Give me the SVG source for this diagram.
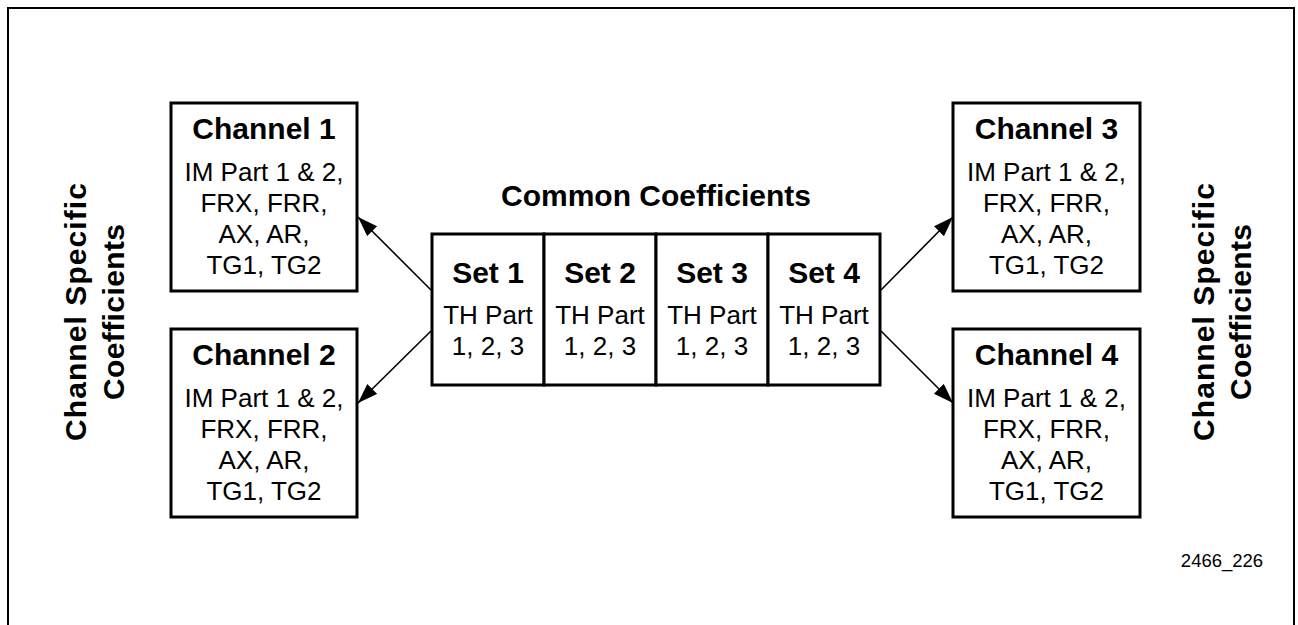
<svg xmlns="http://www.w3.org/2000/svg" width="1298" height="625" viewBox="0 0 1298 625">
<style>
.box{fill:#fff;stroke:#000;stroke-width:3}
.frame{fill:#fff;stroke:#000;stroke-width:2}
.h{font-family:"Liberation Sans",Arial,sans-serif;font-weight:bold;font-size:30px;text-anchor:middle;fill:#000}
.b{font-family:"Liberation Sans",Arial,sans-serif;font-size:26px;text-anchor:middle;fill:#000}
.id{font-family:"Liberation Sans",Arial,sans-serif;font-size:18.5px;text-anchor:middle;fill:#000}
.conn{stroke:#000;stroke-width:1.6;fill:none;marker-end:url(#arr)}
</style>
<defs>
<marker id="arr" markerUnits="userSpaceOnUse" markerWidth="21" markerHeight="15" refX="20" refY="7" orient="auto" viewBox="0 0 21 15">
<path d="M0,0 L20,7 L0,14 z" fill="#000"/>
</marker>
</defs>
<rect class="frame" x="8" y="8" width="1286" height="640"/>
<g id="label-left">
<text class="h" transform="translate(86,312) rotate(-90)" textLength="258" lengthAdjust="spacing">Channel Specific</text>
<text class="h" transform="translate(124,312) rotate(-90)" textLength="176" lengthAdjust="spacing">Coefficients</text>
</g>
<g id="label-right">
<text class="h" transform="translate(1214,312) rotate(-90)" textLength="258" lengthAdjust="spacing">Channel Specific</text>
<text class="h" transform="translate(1251,312) rotate(-90)" textLength="176" lengthAdjust="spacing">Coefficients</text>
</g>
<g id="channel1">
<rect class="box" x="171" y="103" width="186" height="188"/>
<text class="h" x="264" y="139">Channel 1</text>
<text class="b" x="264" y="181">IM Part 1 &amp; 2,</text>
<text class="b" x="264" y="212">FRX, FRR,</text>
<text class="b" x="264" y="243">AX, AR,</text>
<text class="b" x="264" y="274">TG1, TG2</text>
</g>
<g id="channel2">
<rect class="box" x="171" y="329" width="186" height="188"/>
<text class="h" x="264" y="365">Channel 2</text>
<text class="b" x="264" y="407">IM Part 1 &amp; 2,</text>
<text class="b" x="264" y="438">FRX, FRR,</text>
<text class="b" x="264" y="469">AX, AR,</text>
<text class="b" x="264" y="500">TG1, TG2</text>
</g>
<g id="channel3">
<rect class="box" x="953" y="103" width="187" height="188"/>
<text class="h" x="1046.5" y="139">Channel 3</text>
<text class="b" x="1046.5" y="181">IM Part 1 &amp; 2,</text>
<text class="b" x="1046.5" y="212">FRX, FRR,</text>
<text class="b" x="1046.5" y="243">AX, AR,</text>
<text class="b" x="1046.5" y="274">TG1, TG2</text>
</g>
<g id="channel4">
<rect class="box" x="953" y="329" width="187" height="188"/>
<text class="h" x="1046.5" y="365">Channel 4</text>
<text class="b" x="1046.5" y="407">IM Part 1 &amp; 2,</text>
<text class="b" x="1046.5" y="438">FRX, FRR,</text>
<text class="b" x="1046.5" y="469">AX, AR,</text>
<text class="b" x="1046.5" y="500">TG1, TG2</text>
</g>
<g id="common">
<text class="h" x="656" y="206">Common Coefficients</text>
<g id="set1">
<rect class="box" x="432" y="234" width="112" height="151"/>
<text class="h" x="488" y="283">Set 1</text>
<text class="b" x="488" y="324">TH Part</text>
<text class="b" x="488" y="355">1, 2, 3</text>
</g>
<g id="set2">
<rect class="box" x="544" y="234" width="112" height="151"/>
<text class="h" x="600" y="283">Set 2</text>
<text class="b" x="600" y="324">TH Part</text>
<text class="b" x="600" y="355">1, 2, 3</text>
</g>
<g id="set3">
<rect class="box" x="656" y="234" width="112" height="151"/>
<text class="h" x="712" y="283">Set 3</text>
<text class="b" x="712" y="324">TH Part</text>
<text class="b" x="712" y="355">1, 2, 3</text>
</g>
<g id="set4">
<rect class="box" x="768" y="234" width="112" height="151"/>
<text class="h" x="824" y="283">Set 4</text>
<text class="b" x="824" y="324">TH Part</text>
<text class="b" x="824" y="355">1, 2, 3</text>
</g>
</g>
<g id="connectors">
<line class="conn" x1="431" y1="290" x2="358" y2="217"/>
<line class="conn" x1="431" y1="331" x2="358" y2="403"/>
<line class="conn" x1="881" y1="290" x2="953" y2="217"/>
<line class="conn" x1="881" y1="331" x2="953" y2="403"/>
</g>
<g id="figure-id">
<text class="id" x="1222" y="567">2466_226</text>
</g>
</svg>
